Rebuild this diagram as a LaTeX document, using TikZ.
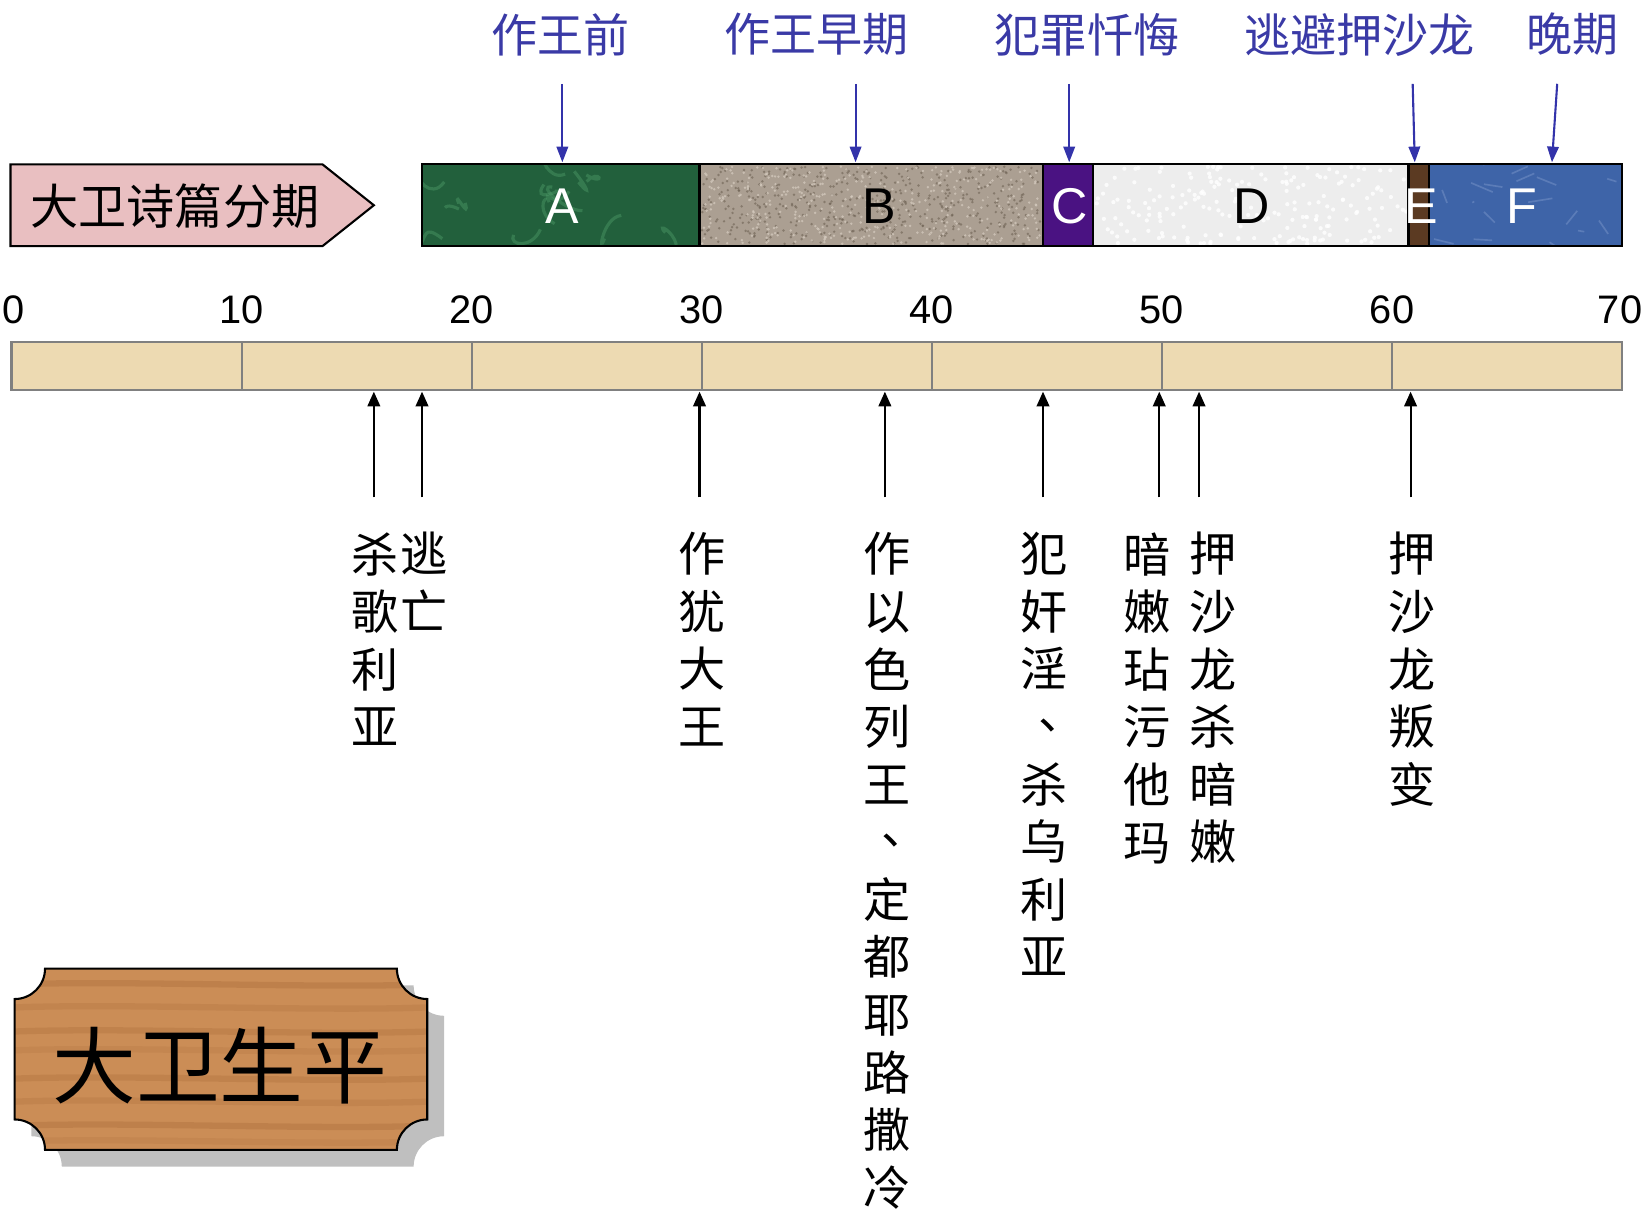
\documentclass[tikz,border=0pt]{standalone}
\usepackage{fontspec}
\setmainfont{Liberation Sans}
\newfontfamily\cjk{Noto Sans CJK SC}
\usetikzlibrary{arrows.meta}
\definecolor{labblue}{HTML}{3A3AA6}
\definecolor{arrblue}{HTML}{3333AA}
\definecolor{cA}{HTML}{22603C}
\definecolor{cAlight}{HTML}{4E9A68}
\definecolor{cB}{HTML}{AB9F92}
\definecolor{cBdark}{HTML}{6E6254}
\definecolor{cBlight}{HTML}{D6CCC0}
\definecolor{cC}{HTML}{4A1282}
\definecolor{cD}{HTML}{EDEDED}
\definecolor{cE}{HTML}{5B3A22}
\definecolor{cF}{HTML}{3E64A8}
\definecolor{cFlight}{HTML}{7894C8}
\definecolor{tanbar}{HTML}{EDDAB2}
\definecolor{pinkbox}{HTML}{E9BFC1}
\definecolor{wood}{HTML}{CB8D56}
\definecolor{wooddark}{HTML}{A86A38}
\definecolor{shadowgray}{HTML}{BFBFBF}
\def\myplaque{(43,925) -- (379,925) .. controls (379,941) and (392,954) .. (408,954) -- (408,1069) .. controls (392,1069) and (379,1082) .. (379,1098) -- (43,1098) .. controls (43,1082) and (30,1069) .. (14,1069) -- (14,954) .. controls (30,954) and (43,941) .. (43,925) -- cycle}
\newcommand\dunhao{\makebox[1em][l]{\hspace{0.38em}\raisebox{0.32em}{、}}}
\begin{document}
\begin{tikzpicture}[x=0.5pt,y=-0.5pt,
  toplabel/.style={font=\cjk\fontsize{22}{26}\selectfont, text=labblue, inner sep=0pt},
  barseg/.style={draw=black, line width=1pt},
  seglet/.style={font=\fontsize{24}{28}\selectfont, inner sep=0pt},
  numlab/.style={font=\fontsize{19}{22}\selectfont, inner sep=0pt},
  vcol/.style={font=\cjk\fontsize{22.5}{27.5}\selectfont, align=center, anchor=north, inner sep=0pt},
  bluearr/.style={draw=arrblue, line width=1pt, -{Triangle[length=7.5pt,width=5.5pt]}},
  blackarr/.style={draw=black, line width=1pt, -{Triangle[length=7pt,width=6pt]}}]
\useasboundingbox (0,0) rectangle (1568,1163);
\pgfmathsetseed{7}

% top labels
\node[toplabel] (t1) at (535,33) {作王前};
\node[toplabel] (t2) at (780,33) {作王早期};
\node[toplabel] (t3) at (1038,33) {犯罪忏悔};
\node[toplabel] (t4) at (1298,33) {逃避押沙龙};
\node[toplabel] (t5) at (1502,33) {晚期};

% pink arrow label
\draw[black, line width=1pt, fill=pinkbox] (10,157) -- (308,157) -- (357,196) -- (308,235) -- (10,235) -- cycle;
\node[font=\cjk\fontsize{23}{26}\selectfont, inner sep=0pt] (psalm) at (167,197) {大卫诗篇分期};

% segmented bar
\fill[cA] (403,157) rectangle (668,235);
\begin{scope}
  \clip (403,157) rectangle (668,235);
  \foreach \k in {1,...,14}
    \draw[cAlight, line width=1.5pt, opacity=0.45] (403+rnd*265,157+rnd*78) .. controls +(rnd*40-20,rnd*40-20) and +(rnd*40-20,rnd*40-20) .. ++(rnd*60-30,rnd*50-25);
\end{scope}
\fill[cB] (668,157) rectangle (996,235);
\foreach \k in {1,...,500}
  \fill[cBdark, opacity=0.6] (670+rnd*324,159+rnd*74) circle[radius=1.3];
\foreach \k in {1,...,400}
  \fill[cBlight, opacity=0.7] (670+rnd*324,159+rnd*74) circle[radius=1.3];
\fill[cC] (996,157) rectangle (1044,235);
\fill[cD] (1044,157) rectangle (1345,235);
\foreach \k in {1,...,200}
  \fill[white, opacity=0.8] (1046+rnd*297,159+rnd*74) circle[radius=2];
\fill[cE] (1345,157) rectangle (1365,235);
\fill[cF] (1365,157) rectangle (1549,235);
\begin{scope}
  \clip (1365,157) rectangle (1549,235);
  \foreach \k in {1,...,18}
    \draw[cFlight, line width=0.8pt, opacity=0.5] (1365+rnd*184,157+rnd*78) -- ++(rnd*50-25,rnd*30-15);
\end{scope}
\foreach \a/\b in {403/668,668/996,996/1044,1044/1345,1345/1365,1365/1549}
  \draw[barseg] (\a,157) rectangle (\b,235);
\node[seglet, text=white] (lA) at (537,197) {A};
\node[seglet, text=black] (lB) at (840,197) {B};
\node[seglet, text=white] (lC) at (1021,197) {C};
\node[seglet, text=black] (lD) at (1195,197) {D};
\node[seglet, text=white] (lE) at (1357,197) {E};
\node[seglet, text=white] (lF) at (1453,197) {F};

% blue arrows
\coordinate (a1s) at (537,80);  \coordinate (a1e) at (537,155);
\coordinate (a2s) at (817,80);  \coordinate (a2e) at (817,155);
\coordinate (a3s) at (1021,80); \coordinate (a3e) at (1021,155);
\coordinate (a4s) at (1349,80); \coordinate (a4e) at (1351,155);
\coordinate (a5s) at (1487,80); \coordinate (a5e) at (1482,155);
\foreach \i in {1,...,5} \draw[bluearr] (a\i s) -- (a\i e);

% timeline numbers
\node[numlab] (n0) at (13,296) {0};
\foreach \v [count=\i] in {10,20,30,40,50,60} \node[numlab] (n\i) at (11+\i*219.71,296) {\v};
\node[numlab] (n7) at (1547,296) {70};

% timeline bar
\draw[draw=gray, line width=1pt, fill=tanbar] (11,327) rectangle (1549,372);
\foreach \i in {1,...,6} \draw[gray, line width=1pt] (11+\i*219.71,327) -- (11+\i*219.71,372);

% black arrows
\foreach \x [count=\i] in {357,403,668,845,996,1107,1145,1347} {
  \coordinate (b\i s) at (\x,475); \coordinate (b\i e) at (\x,374);
  \draw[blackarr] (b\i s) -- (b\i e);
}

% vertical event texts
\node[vcol] (v1) at (358,508) {杀\\歌\\利\\亚};
\node[vcol] (v2) at (405,508) {逃\\亡};
\node[vcol] (v3) at (670,508) {作\\犹\\大\\王};
\node[vcol] (v4) at (847,508) {作\\以\\色\\列\\王\\\dunhao\\定\\都\\耶\\路\\撒\\冷};
\node[vcol] (v5) at (997,508) {犯\\奸\\淫\\\dunhao\\杀\\乌\\利\\亚};
\node[vcol] (v6) at (1095,508) {暗\\嫩\\玷\\污\\他\\玛};
\node[vcol] (v7) at (1158,508) {押\\沙\\龙\\杀\\暗\\嫩};
\node[vcol] (v8) at (1348,508) {押\\沙\\龙\\叛\\变};

% plaque
\begin{scope}[shift={(16,16)}]
  \fill[shadowgray] \myplaque;
\end{scope}
\fill[wood] \myplaque;
\begin{scope}
  \clip \myplaque;
  \foreach \yy/\op in {940/0.35,962/0.25,985/0.3,1003/0.2,1030/0.3,1052/0.25,1075/0.35,1090/0.2}
    \draw[wooddark, line width=3pt, opacity=\op] (14,\yy) .. controls (120,\yy-4) and (300,\yy+4) .. (408,\yy);
\end{scope}
\draw[black, line width=1pt] \myplaque;
\node[font=\cjk\fontsize{40}{44}\selectfont, inner sep=0pt] (life) at (210,1018) {大卫生平};
\end{tikzpicture}
\end{document}
